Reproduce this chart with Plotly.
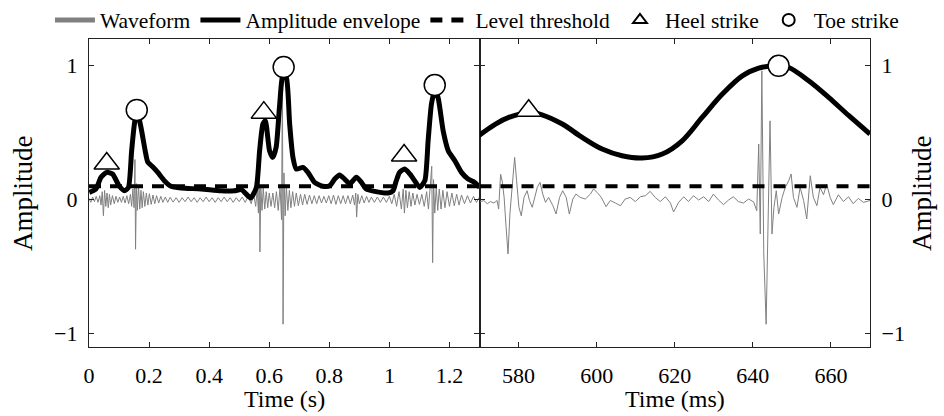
import plotly.graph_objects as go

# ---------------- data ----------------
# Left panel: time in seconds
wave_s_t = [0.000, 0.006, 0.012, 0.018, 0.024, 0.030, 0.036, 0.040, 0.044, 0.048, 0.052, 0.056, 0.060, 0.064,
            0.068, 0.072, 0.078, 0.084, 0.090, 0.096, 0.102, 0.108, 0.114, 0.120, 0.126, 0.132, 0.138, 0.142,
            0.146, 0.150, 0.153, 0.155, 0.158, 0.161, 0.165, 0.169, 0.173, 0.177, 0.181, 0.186, 0.191, 0.196,
            0.201, 0.207, 0.213, 0.219, 0.225, 0.232, 0.239, 0.246, 0.254, 0.262, 0.270, 0.280, 0.290, 0.300,
            0.310, 0.320, 0.330, 0.340, 0.350, 0.360, 0.370, 0.380, 0.390, 0.400, 0.410, 0.420, 0.430, 0.440,
            0.450, 0.460, 0.470, 0.480, 0.490, 0.500, 0.510, 0.520, 0.530, 0.540, 0.548, 0.555, 0.560, 0.564,
            0.567, 0.569, 0.572, 0.576, 0.580, 0.585, 0.590, 0.595, 0.600, 0.606, 0.612, 0.618, 0.624, 0.630,
            0.636, 0.641, 0.644, 0.646, 0.649, 0.653, 0.657, 0.662, 0.667, 0.672, 0.678, 0.684, 0.690, 0.697,
            0.704, 0.711, 0.718, 0.726, 0.734, 0.742, 0.750, 0.758, 0.766, 0.774, 0.782, 0.790, 0.798, 0.806,
            0.814, 0.822, 0.830, 0.838, 0.846, 0.854, 0.862, 0.870, 0.878, 0.884, 0.888, 0.891, 0.895, 0.900,
            0.908, 0.916, 0.924, 0.932, 0.940, 0.950, 0.960, 0.970, 0.980, 0.990, 1.000, 1.008, 1.016, 1.024,
            1.032, 1.040, 1.046, 1.050, 1.055, 1.060, 1.066, 1.072, 1.078, 1.085, 1.092, 1.100, 1.108, 1.116,
            1.124, 1.130, 1.136, 1.141, 1.144, 1.147, 1.151, 1.156, 1.161, 1.166, 1.172, 1.178, 1.185, 1.192,
            1.200, 1.208, 1.216, 1.224, 1.232, 1.240, 1.250, 1.260, 1.270, 1.280, 1.290, 1.300]
wave_s_v = [0.01, -0.02, 0.02, -0.015, 0.025, -0.02, 0.03, -0.04, 0.06, -0.12, 0.07, -0.05, 0.05, -0.06,
            0.04, -0.04, 0.03, -0.03, 0.025, -0.02, 0.02, -0.02, 0.025, -0.025, 0.03, -0.03, 0.04, -0.05,
            0.08, -0.06, 0.30, -0.37, 0.12, -0.08, 0.10, -0.07, 0.07, -0.06, 0.06, -0.05, 0.05, -0.04,
            0.045, -0.035, 0.035, -0.03, 0.03, -0.025, 0.025, -0.02, 0.02, -0.02, 0.018, -0.018, 0.015, -0.02,
            0.015, -0.015, 0.02, -0.015, 0.015, -0.02, 0.015, -0.015, 0.02, -0.015, 0.015, -0.02, 0.015, -0.015,
            0.02, -0.015, 0.015, -0.02, 0.015, -0.015, 0.02, -0.02, 0.025, -0.03, 0.04, -0.05, 0.08, -0.10,
            0.35, -0.39, 0.10, -0.08, 0.09, -0.07, 0.06, -0.06, 0.05, -0.05, 0.05, -0.06, 0.06, -0.08,
            0.10, -0.15, 0.95, -0.93, 0.20, -0.12, 0.10, -0.08, 0.07, -0.06, 0.06, -0.05, 0.05, -0.045,
            0.04, -0.04, 0.04, -0.035, 0.035, -0.03, 0.03, -0.03, 0.03, -0.025, 0.025, -0.025, 0.03, -0.03,
            0.035, -0.035, 0.03, -0.03, 0.03, -0.03, 0.03, -0.03, 0.035, -0.04, 0.05, -0.13, 0.04, -0.03,
            0.03, -0.025, 0.025, -0.02, 0.02, -0.02, 0.02, -0.02, 0.02, -0.02, 0.025, -0.03, 0.04, -0.05,
            0.06, -0.07, 0.08, -0.10, 0.07, -0.06, 0.06, -0.05, 0.05, -0.04, 0.04, -0.035, 0.04, -0.05,
            0.06, -0.07, 0.10, 0.25, -0.47, 0.15, -0.10, 0.09, -0.08, 0.08, -0.07, 0.07, -0.06, 0.06,
            -0.05, 0.05, -0.045, 0.04, -0.04, 0.035, -0.03, 0.03, -0.025, 0.025, -0.02, 0.02]

env_s_t = [0.001, 0.023, 0.040, 0.059, 0.079, 0.100, 0.118, 0.131, 0.142, 0.153, 0.162, 0.173, 0.187, 0.196,
           0.212, 0.229, 0.251, 0.273, 0.307, 0.373, 0.440, 0.484, 0.507, 0.518, 0.538, 0.557, 0.568, 0.579,
           0.587, 0.601, 0.612, 0.623, 0.634, 0.646, 0.657, 0.668, 0.679, 0.690, 0.712, 0.729, 0.751, 0.779,
           0.801, 0.818, 0.834, 0.851, 0.868, 0.890, 0.907, 0.923, 0.951, 0.996, 1.012, 1.023, 1.034, 1.051,
           1.068, 1.084, 1.101, 1.118, 1.129, 1.140, 1.151, 1.162, 1.179, 1.196, 1.218, 1.240, 1.262, 1.284,
           1.301]
env_s_v = [0.055, 0.080, 0.167, 0.204, 0.190, 0.104, 0.067, 0.090, 0.366, 0.590, 0.640, 0.540, 0.366, 0.279,
           0.246, 0.204, 0.142, 0.100, 0.087, 0.080, 0.067, 0.067, 0.075, 0.055, 0.013, 0.090, 0.366, 0.565,
           0.590, 0.366, 0.316, 0.391, 0.689, 0.938, 0.913, 0.565, 0.316, 0.229, 0.241, 0.204, 0.129, 0.100,
           0.104, 0.154, 0.184, 0.154, 0.117, 0.167, 0.129, 0.080, 0.062, 0.050, 0.067, 0.142, 0.204, 0.229,
           0.192, 0.142, 0.092, 0.142, 0.441, 0.714, 0.813, 0.764, 0.515, 0.366, 0.291, 0.204, 0.154, 0.129,
           0.092]

heel_s_t = [0.059, 0.582, 1.049]
heel_s_v = [0.27, 0.65, 0.33]
toe_s_t = [0.159, 0.648, 1.151]
toe_s_v = [0.67, 0.99, 0.856]

# Right panel: time in milliseconds
wave_ms_t = [569.8, 571.1, 572.0, 572.8, 573.7, 574.5, 574.9, 575.4, 575.8, 576.3, 576.8, 577.3, 577.8, 578.4,
             579.0, 579.5, 580.1, 580.7, 581.4, 582.2, 582.8, 583.5, 584.2, 584.8, 585.5, 586.2, 586.9, 587.7,
             588.8, 589.6, 590.5, 591.3, 592.2, 593.0, 593.9, 594.7, 595.8, 597.1, 598.4, 599.2, 600.1, 601.2,
             602.4, 603.5, 604.8, 606.1, 607.3, 608.6, 609.9, 611.2, 612.5, 613.7, 615.0, 616.3, 617.6, 618.9,
             619.7, 621.0, 622.3, 623.5, 624.8, 626.1, 627.4, 628.7, 629.9, 631.2, 632.5, 633.8, 635.0, 636.3,
             637.6, 638.9, 640.2, 641.0, 641.5, 641.9, 642.3, 642.8, 643.4, 643.9, 644.4, 644.9, 645.4, 646.0,
             646.6, 647.5, 648.3, 649.2, 649.8, 650.4, 651.3, 652.1, 653.0, 653.8, 654.7, 655.5, 656.4, 657.2,
             658.1, 658.9, 659.8, 660.6, 661.9, 663.2, 664.5, 665.7, 667.0, 668.3, 670.0]
wave_ms_v = [-0.02, -0.006, -0.03, -0.014, -0.025, -0.006, -0.07, 0.19, 0.14, 0.02, -0.2, -0.405, -0.1, 0.117,
             0.316, 0.142, -0.057, -0.12, 0.017, 0.067, -0.006, -0.057, 0.017, 0.092, 0.129, 0.042, -0.02, 0.017,
             -0.045, -0.107, 0.017, 0.067, 0.017, -0.107, 0.005, 0.042, 0.017, 0.005, 0.042, 0.08, 0.055, 0.017,
             -0.052, -0.006, -0.025, -0.045, 0.005, 0.017, -0.014, 0.022, 0.03, 0.062, 0.017, -0.014, 0.022, -0.025,
             -0.092, -0.02, 0.022, -0.014, 0.03, -0.002, 0.022, -0.014, 0.042, -0.002, -0.037, -0.002, 0.022, -0.014,
             -0.025, 0.005, -0.017, -0.082, 0.416, -0.256, 0.963, -0.405, -0.93, -0.107, 0.589, -0.256, -0.057, 0.067,
             -0.107, 0.017, 0.092, 0.142, 0.192, 0.017, -0.057, 0.092, -0.006, -0.144, 0.179, 0.017, -0.045, 0.092,
             0.037, 0.117, 0.017, -0.037, 0.037, -0.014, 0.022, -0.03, 0.01, -0.02, -0.006]

env_ms_t = [569.8, 574.1, 577.5, 582.6, 586.0, 591.2, 596.3, 601.4, 606.5, 611.6, 616.8, 621.9, 627.0, 632.2,
            637.3, 641.5, 644.1, 646.6, 649.2, 654.3, 659.4, 664.6, 670.0]
env_ms_v = [0.478, 0.565, 0.614, 0.652, 0.634, 0.565, 0.465, 0.378, 0.328, 0.311, 0.341, 0.440, 0.614, 0.789,
            0.925, 0.982, 0.997, 1.000, 0.987, 0.888, 0.764, 0.627, 0.490]

heel_ms_t = [582.6]
heel_ms_v = [0.664]
toe_ms_t = [646.6]
toe_ms_v = [1.0]

threshold = 0.1
thr_s_t = [0.0, 1.3]
thr_ms_t = [570, 670]

x_s_ticks = [0, 0.2, 0.4, 0.6, 0.8, 1, 1.2]
x_ms_ticks = [580, 600, 620, 640, 660]
y_ticks = [-1, 0, 1]

x_s_title = "Time (s)"
x_ms_title = "Time (ms)"
y_title = "Amplitude"

# ---------------- figure ----------------
FONT = "Liberation Serif"
GRAY = "#808080"
fig = go.Figure()

marker_open = dict(color="white", line=dict(color="black", width=1.5))

# left panel
fig.add_trace(go.Scatter(x=wave_s_t, y=wave_s_v, mode="lines", name="Waveform",
                         line=dict(color=GRAY, width=1), xaxis="x", yaxis="y"))
fig.add_trace(go.Scatter(x=env_s_t, y=env_s_v, mode="lines", name="Amplitude envelope",
                         line=dict(color="black", width=5, shape="spline", smoothing=0.6),
                         xaxis="x", yaxis="y"))
fig.add_trace(go.Scatter(x=thr_s_t, y=[threshold, threshold], mode="lines", name="Level threshold",
                         line=dict(color="black", width=4, dash="12px,9px"), xaxis="x", yaxis="y"))
fig.add_trace(go.Scatter(x=heel_s_t, y=heel_s_v, mode="markers", name="Heel strike",
                         marker=dict(symbol="triangle-up", size=22, **marker_open), xaxis="x", yaxis="y"))
fig.add_trace(go.Scatter(x=toe_s_t, y=toe_s_v, mode="markers", name="Toe strike",
                         marker=dict(symbol="circle", size=21, **marker_open), xaxis="x", yaxis="y"))

# right panel
fig.add_trace(go.Scatter(x=wave_ms_t, y=wave_ms_v, mode="lines", showlegend=False,
                         line=dict(color=GRAY, width=1), xaxis="x2", yaxis="y2"))
fig.add_trace(go.Scatter(x=thr_ms_t, y=[threshold, threshold], mode="lines", showlegend=False,
                         line=dict(color="black", width=4, dash="12px,9px"), xaxis="x2", yaxis="y2"))
fig.add_trace(go.Scatter(x=env_ms_t, y=env_ms_v, mode="lines", showlegend=False,
                         line=dict(color="black", width=5, shape="spline", smoothing=1.0),
                         xaxis="x2", yaxis="y2"))
fig.add_trace(go.Scatter(x=heel_ms_t, y=heel_ms_v, mode="markers", showlegend=False,
                         marker=dict(symbol="triangle-up", size=22, **marker_open), xaxis="x2", yaxis="y2"))
fig.add_trace(go.Scatter(x=toe_ms_t, y=toe_ms_v, mode="markers", showlegend=False,
                         marker=dict(symbol="circle", size=21, **marker_open), xaxis="x2", yaxis="y2"))

axis_common = dict(showline=True, linecolor="#222222", linewidth=1.3, mirror="ticks",
                   ticks="inside", ticklen=5, tickwidth=1, tickcolor="#222222", automargin=False,
                   showgrid=False, zeroline=False, tickfont=dict(family=FONT, size=22, color="black"))

# axis titles as paper-anchored annotations (exact placement)
PH = 416 - 39 - 69   # plot height in px
PW = 944 - 89 - 74   # plot width in px
annos = [
    dict(text=x_s_title, x=0.25, y=-(399 - 347) / PH, xref="paper", yref="paper",
         xanchor="center", yanchor="middle", showarrow=False, font=dict(family=FONT, size=24)),
    dict(text=x_ms_title, x=0.75, y=-(399 - 347) / PH, xref="paper", yref="paper",
         xanchor="center", yanchor="middle", showarrow=False, font=dict(family=FONT, size=24)),
    dict(text=y_title, x=-(89 - 23) / PW, y=(347 - 193) / PH, xref="paper", yref="paper",
         xanchor="center", yanchor="middle", textangle=-90, showarrow=False,
         font=dict(family=FONT, size=27)),
    dict(text=y_title, x=1 + (922 - 870) / PW, y=(347 - 193) / PH, xref="paper", yref="paper",
         xanchor="center", yanchor="middle", textangle=-90, showarrow=False,
         font=dict(family=FONT, size=27)),
]

fig.update_layout(
    width=944, height=416,
    margin=dict(l=89, r=74, t=39, b=69, autoexpand=False),
    paper_bgcolor="white", plot_bgcolor="white",
    font=dict(family=FONT, color="black"),
    xaxis=dict(domain=[0, 0.5], range=[0, 1.3], tickvals=x_s_ticks, anchor="y",
               ticklabelstandoff=8, **axis_common),
    yaxis=dict(range=[-1.1, 1.2], tickvals=y_ticks, anchor="x", side="left",
               ticklabelstandoff=6, **axis_common),
    xaxis2=dict(domain=[0.5, 1], range=[570, 670], tickvals=x_ms_ticks, anchor="y2",
                ticklabelstandoff=8, **axis_common),
    yaxis2=dict(range=[-1.1, 1.2], tickvals=y_ticks, anchor="x2", side="right",
                ticklabelstandoff=6, **axis_common),
    annotations=annos,
    legend=dict(orientation="h", xref="paper", yref="paper",
                x=-0.05, xanchor="left", y=1.062, yanchor="middle",
                font=dict(family=FONT, size=21.5), itemwidth=40, bgcolor="rgba(0,0,0,0)",
                tracegroupgap=0, itemsizing="constant"),
    showlegend=True,
)

fig.write_html("out.html", config={"displayModeBar": False},
               post_script="document.body.style.margin='0';document.body.style.overflow='hidden';")
